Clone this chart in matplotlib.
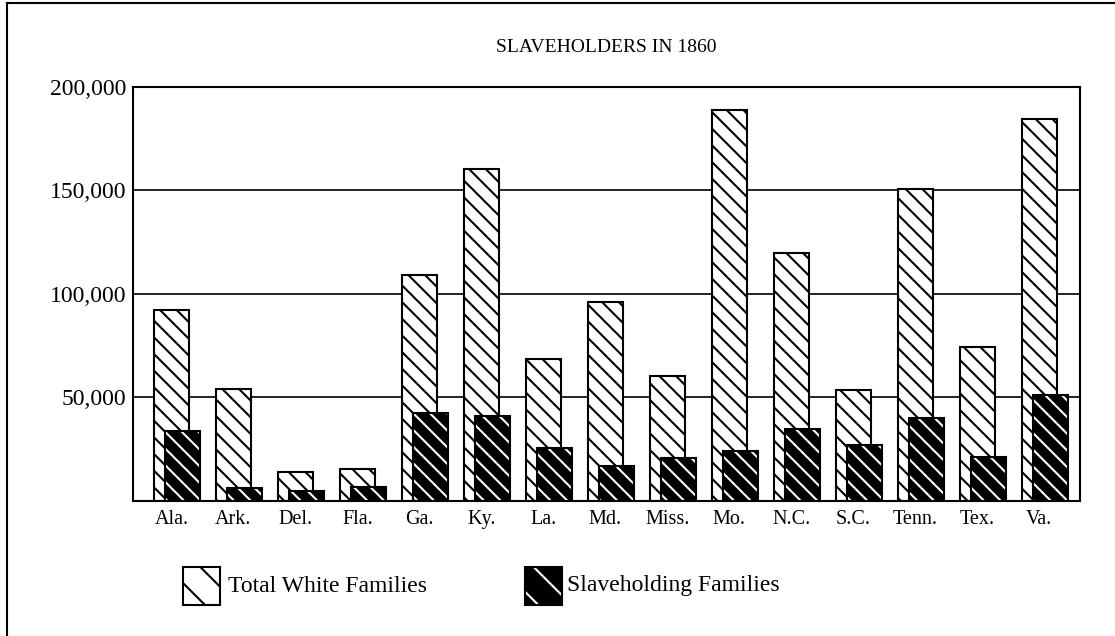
import matplotlib
matplotlib.use('Agg')
import matplotlib.pyplot as plt
import numpy as np
from matplotlib.patches import Rectangle
from matplotlib.lines import Line2D
from matplotlib.ticker import FuncFormatter

states = ["Ala.", "Ark.", "Del.", "Fla.", "Ga.", "Ky.", "La.", "Md.", "Miss.",
          "Mo.", "N.C.", "S.C.", "Tenn.", "Tex.", "Va."]
total_white_families = [92100, 54000, 14000, 15200, 109000, 160100, 68500, 95800,
                        60400, 188700, 119800, 53500, 150700, 74400, 184400]
slaveholding_families = [33800, 6000, 4700, 6800, 42500, 40900, 25300, 16900,
                         20800, 24200, 34500, 26900, 40100, 21300, 51100]
y_ticks = [50000, 100000, 150000, 200000]
title = "SLAVEHOLDERS IN 1860"
legend_labels = ["Total White Families", "Slaveholding Families"]

plt.rcParams['font.family'] = ['Liberation Serif', 'DejaVu Serif']
plt.rcParams['hatch.linewidth'] = 1.5

W, H = 1115, 636
fig = plt.figure(figsize=(W / 100, H / 100), dpi=100)
fig.patch.set_facecolor('white')

ax_l, ax_r, ax_t, ax_b = 133.3, 1080, 86.7, 500.7
ax = fig.add_axes([ax_l / W, 1 - ax_b / H, (ax_r - ax_l) / W, (ax_b - ax_t) / H])

x = np.arange(len(states))
bw = 0.564
off = 0.185
HATCH = '\\\\'

ax.bar(x - off / 2, total_white_families, width=bw, facecolor='white',
       edgecolor='black', hatch=HATCH, linewidth=1.5, zorder=2)
ax.bar(x + off / 2, slaveholding_families, width=bw, facecolor='black',
       edgecolor='white', hatch=HATCH, linewidth=0, zorder=3)
ax.bar(x + off / 2, slaveholding_families, width=bw, fill=False,
       edgecolor='black', linewidth=1.5, zorder=4)

ax.set_xlim(-0.708, 14.563)
ax.set_ylim(0, 200000)
ax.set_yticks(y_ticks)
ax.yaxis.set_major_formatter(FuncFormatter(lambda v, p: f"{int(v):,}"))
ax.set_xticks(x - off / 2)
ax.set_xticklabels(states)
ax.tick_params(axis='both', length=0)
ax.tick_params(axis='x', pad=7, labelsize=14.5)
ax.tick_params(axis='y', pad=5, labelsize=17)
ax.yaxis.grid(True, color='black', linewidth=1.2)
ax.set_axisbelow(True)
for s in ax.spines.values():
    s.set_linewidth(1.5)
    s.set_color('black')

fig.text(606.5 / W, 1 - 47.5 / H, title, ha='center', va='center', fontsize=14)

# legend
ph, pw = 38, 37
py = 605
fig.add_artist(Rectangle((183 / W, 1 - py / H), pw / W, ph / H, transform=fig.transFigure,
                         facecolor='white', edgecolor='black', hatch='\\', linewidth=1.5))
fig.text(228 / W, 1 - 586 / H, legend_labels[0], ha='left', va='center', fontsize=17)
fig.add_artist(Rectangle((525 / W, 1 - py / H), pw / W, ph / H, transform=fig.transFigure,
                         facecolor='black', edgecolor='white', hatch='\\', linewidth=0))
fig.add_artist(Rectangle((525 / W, 1 - py / H), pw / W, ph / H, transform=fig.transFigure,
                         fill=False, edgecolor='black', linewidth=1.5))
fig.text(567 / W, 1 - 586 / H, legend_labels[1], ha='left', va='center', fontsize=17)

# outer frame (left and top edges)
fig.add_artist(Line2D([7 / W, 7 / W], [0, 1 - 3 / H], transform=fig.transFigure,
                      color='black', linewidth=1.5))
fig.add_artist(Line2D([7 / W, 1], [1 - 3 / H, 1 - 3 / H], transform=fig.transFigure,
                      color='black', linewidth=1.5))

fig.savefig('out.png', dpi=100)
